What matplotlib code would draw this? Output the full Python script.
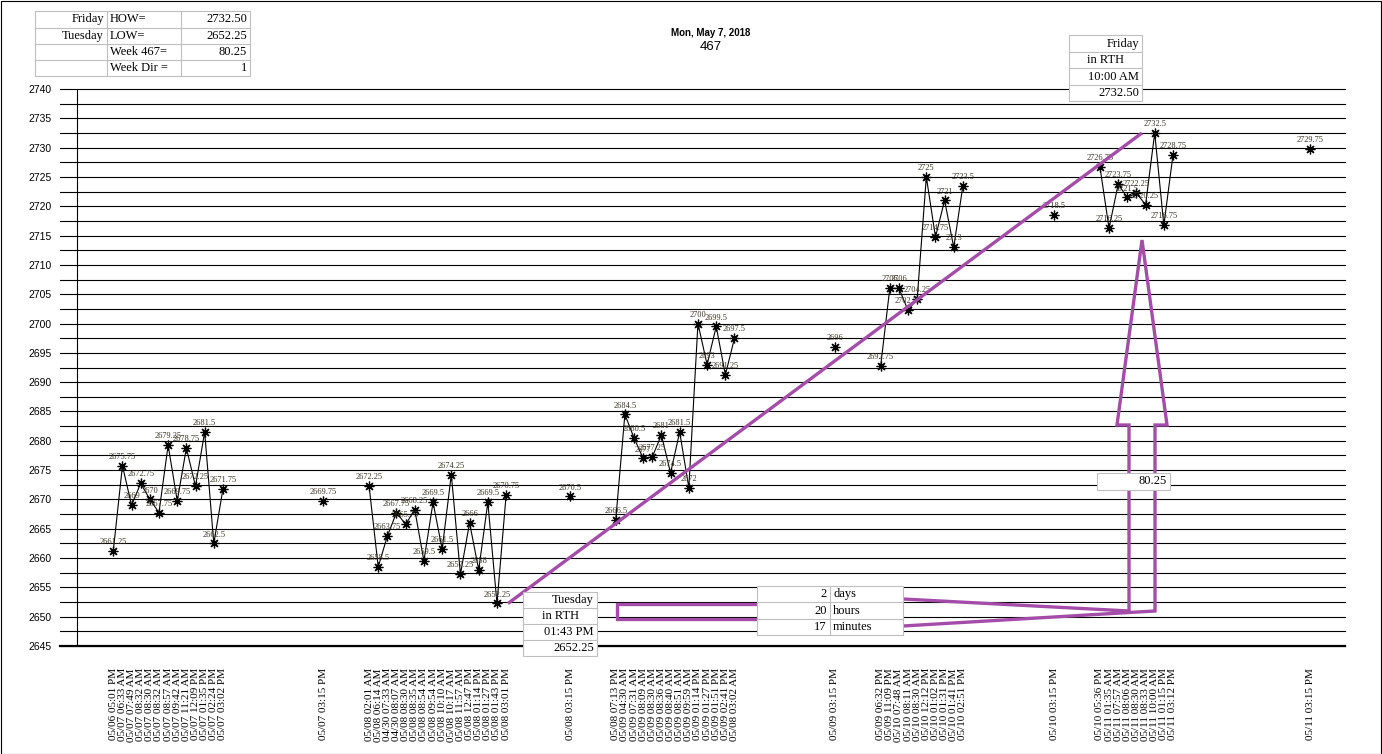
import numpy as np
import matplotlib
matplotlib.use("Agg")
import matplotlib.pyplot as plt
from matplotlib.lines import Line2D
from matplotlib.patches import Rectangle
from matplotlib.ticker import MultipleLocator, FormatStrFormatter

# ---------------- data ----------------
title = "Mon, May 7, 2018"
subtitle = "467"

seg1_labels = ["05/06 05:01 PM", "05/07 06:33 AM", "05/07 07:49 AM", "05/07 08:32 AM",
               "05/07 08:30 AM", "05/07 08:32 AM", "05/07 08:57 AM", "05/07 09:42 AM",
               "05/07 11:21 AM", "05/07 12:09 PM", "05/07 01:35 PM", "05/07 02:24 PM",
               "05/07 03:02 PM"]
seg1_values = [2661.25, 2675.75, 2669, 2672.75, 2670, 2667.75, 2679.25, 2669.75,
               2678.75, 2672.25, 2681.5, 2662.5, 2671.75]

seg2_labels = ["05/07 03:15 PM"]
seg2_values = [2669.75]

seg3_labels = ["05/08 02:01 AM", "05/08 06:14 AM", "04/30 07:33 AM", "04/30 08:07 AM",
               "05/08 08:30 AM", "05/08 08:35 AM", "05/08 08:54 AM", "05/08 09:54 AM",
               "05/08 10:10 AM", "05/08 10:17 AM", "05/08 11:57 AM", "05/08 12:47 PM",
               "05/08 01:14 PM", "05/08 01:27 PM", "05/08 01:43 PM", "05/08 03:01 PM"]
seg3_values = [2672.25, 2658.5, 2663.75, 2667.75, 2665.75, 2668.25, 2659.5, 2669.5,
               2661.5, 2674.25, 2657.25, 2666, 2658, 2669.5, 2652.25, 2670.75]

seg4_labels = ["05/08 03:15 PM"]
seg4_values = [2670.5]

seg5_labels = ["05/08 07:13 PM", "05/09 04:30 AM", "05/09 07:31 AM", "05/09 08:09 AM",
               "05/09 08:30 AM", "05/09 08:36 AM", "05/09 08:40 AM", "05/09 08:51 AM",
               "05/09 09:59 AM", "05/09 01:14 PM", "05/09 01:27 PM", "05/09 01:51 PM",
               "05/09 02:41 PM", "05/08 03:02 AM"]
seg5_values = [2666.5, 2684.5, 2680.5, 2677, 2677.25, 2681, 2674.5, 2681.5,
               2672, 2700, 2693, 2699.5, 2691.25, 2697.5]

seg6_labels = ["05/09 03:15 PM"]
seg6_values = [2696]

seg7_labels = ["05/09 06:32 PM", "05/09 11:09 PM", "05/10 07:48 AM", "05/10 08:11 AM",
               "05/10 08:30 AM", "05/10 12:12 PM", "05/10 01:02 PM", "05/10 01:31 PM",
               "05/10 01:41 PM", "05/10 02:51 PM"]
seg7_values = [2692.75, 2706, 2706, 2702.25, 2704.25, 2725, 2714.75, 2721, 2713, 2723.5]

seg8_labels = ["05/10 03:15 PM"]
seg8_values = [2718.5]

seg9_labels = ["05/10 05:36 PM", "05/11 01:35 AM", "05/11 07:57 AM", "05/11 08:06 AM",
               "05/11 08:30 AM", "05/11 08:33 AM", "05/11 10:00 AM", "05/11 01:15 PM",
               "05/11 03:12 PM"]
seg9_values = [2726.75, 2716.25, 2723.75, 2721.5, 2722.25, 2720.25, 2732.5, 2716.75, 2728.75]

seg10_labels = ["05/11 03:15 PM"]
seg10_values = [2729.75]

# number of empty categories before each segment
blank_before = [0, 10, 4, 6, 4, 10, 4, 9, 4, 14]

week_label = "Week 467="
week_dir = 1
high_day, low_day = "Friday", "Tuesday"
high_time, low_time = "10:00 AM", "01:43 PM"
elapsed = [("2", "days"), ("20", "hours"), ("17", "minutes")]

segments = [(seg1_labels, seg1_values), (seg2_labels, seg2_values),
            (seg3_labels, seg3_values), (seg4_labels, seg4_values),
            (seg5_labels, seg5_values), (seg6_labels, seg6_values),
            (seg7_labels, seg7_values), (seg8_labels, seg8_values),
            (seg9_labels, seg9_values), (seg10_labels, seg10_values)]

categories, values = [], []
for nb, (labs, vals) in zip(blank_before, segments):
    categories += [""] * nb
    values += [np.nan] * nb
    categories += labs
    values += vals
values = np.array(values, dtype=float)
x = np.arange(len(categories))

HOW = np.nanmax(values)
LOW = np.nanmin(values)
RANGE = HOW - LOW
hi_i = int(np.nanargmax(values))
lo_i = int(np.nanargmin(values))

# ---------------- figure ----------------
W, H = 1382, 754
SERIF = "Liberation Serif"
SANS = "Liberation Sans"
PURPLE = "#A44DA8"
GRAY = "#BFBFBF"

fig = plt.figure(figsize=(W / 100, H / 100), dpi=100)
fig.patch.set_facecolor("white")

def fx(px):
    return px / W

def fy(py):
    return 1 - py / H

ax = fig.add_axes([fx(60), fy(646), (1345 - 60) / W, (646 - 89) / H])
ax.set_xlim(-5.835, 134.83)
ax.set_ylim(2645, 2740)

for s in ["left", "right", "top"]:
    ax.spines[s].set_visible(False)
ax.spines["bottom"].set_linewidth(1.6)
ax.spines["bottom"].set_color("black")

ax.yaxis.set_major_locator(MultipleLocator(5))
ax.yaxis.set_minor_locator(MultipleLocator(2.5))
ax.yaxis.set_major_formatter(FormatStrFormatter("%d"))
ax.grid(True, axis="y", which="both", color="black", linewidth=0.8)
for t in ax.yaxis.get_major_ticks() + ax.yaxis.get_minor_ticks():
    t.gridline.set_clip_on(False)
ax.set_axisbelow(True)
ax.tick_params(axis="y", which="both", length=0, pad=6, labelsize=7.5)
for lab in ax.get_yticklabels():
    lab.set_fontfamily(SANS)

# value axis line
ax.axvline(-4, color="black", linewidth=0.8, zorder=1)

# x tick labels
tick_pos = [i for i, c in enumerate(categories) if c]
ax.set_xticks(tick_pos)
ax.set_xticklabels([categories[i] for i in tick_pos], rotation=90, ha="center",
                   va="top", fontsize=8, fontfamily=SERIF)
ax.tick_params(axis="x", length=0, pad=16)

# series
ax.plot(x, values, color="black", linewidth=0.8, marker=(8, 2, 0), markersize=7,
        markeredgewidth=0.9, markeredgecolor="black", zorder=3, clip_on=False)
for xi, v in zip(x, values):
    if np.isnan(v):
        continue
    ax.annotate(f"{v:g}", (xi, v), xytext=(0, 3.5), textcoords="offset points",
                ha="center", va="bottom", fontsize=6, fontfamily=SERIF,
                color="#3d3524", zorder=4)

# purple diagonal low -> high
ax.plot([lo_i + 1.2, hi_i - 1.4], [LOW, HOW], color=PURPLE, linewidth=2.4,
        zorder=5, solid_capstyle="butt")

# purple block arrow / connector (figure pixel coordinates)
def fig_line(pts, **kw):
    xs = [fx(p[0]) for p in pts]
    ys = [fy(p[1]) for p in pts]
    fig.add_artist(Line2D(xs, ys, transform=fig.transFigure, **kw))

pk = dict(color=PURPLE, linewidth=2.4, zorder=6, solid_joinstyle="miter")
fig_line([(757, 603.5), (617, 603.5), (617, 619), (757, 619)], **pk)
fig_line([(903, 599), (1129, 611), (1129, 425), (1117, 425), (1142, 240),
          (1167, 425), (1155, 425), (1155, 611), (1129, 612.5), (903, 626)], **pk)

# tables
def draw_table(xe, ye, cells, fs=9):
    fig.add_artist(Rectangle((fx(xe[0]), fy(ye[-1])), (xe[-1] - xe[0]) / W,
                             (ye[-1] - ye[0]) / H, transform=fig.transFigure,
                             facecolor="white", edgecolor=GRAY, linewidth=0.8,
                             zorder=10))
    for xv in xe[1:-1]:
        fig.add_artist(Line2D([fx(xv), fx(xv)], [fy(ye[0]), fy(ye[-1])],
                              transform=fig.transFigure, color=GRAY,
                              linewidth=0.8, zorder=11))
    for yv in ye[1:-1]:
        fig.add_artist(Line2D([fx(xe[0]), fx(xe[-1])], [fy(yv), fy(yv)],
                              transform=fig.transFigure, color=GRAY,
                              linewidth=0.8, zorder=11))
    for r, row in enumerate(cells):
        yc = (ye[r] + ye[r + 1]) / 2
        for c, (txt, al) in enumerate(row):
            if not txt:
                continue
            if al == "r":
                xp, ha = xe[c + 1] - 3, "right"
            elif al == "l":
                xp, ha = xe[c] + 3, "left"
            else:
                xp, ha = (xe[c] + xe[c + 1]) / 2, "center"
            fig.text(fx(xp), fy(yc), txt, ha=ha, va="center", fontsize=fs,
                     fontfamily=SERIF, color="black", zorder=12)

draw_table([35, 107, 181, 250], [11, 27.5, 44, 60, 76],
           [[(high_day, "r"), ("HOW=", "l"), (f"{HOW:.2f}", "r")],
            [(low_day, "r"), ("LOW=", "l"), (f"{LOW:.2f}", "r")],
            [("", "r"), (week_label, "l"), (f"{RANGE:.2f}", "r")],
            [("", "r"), ("Week Dir =", "l"), (f"{week_dir}", "r")]])

draw_table([1069, 1142], [35, 52, 68, 85, 101],
           [[(high_day, "r")], [("in RTH", "c")], [(high_time, "r")],
            [(f"{HOW:.2f}", "r")]])

draw_table([523, 597], [592, 608, 624, 640, 656],
           [[(low_day, "r")], [("in RTH", "c")], [(low_time, "r")],
            [(f"{LOW:.2f}", "r")]])

draw_table([757, 830, 903], [586, 602, 619, 635],
           [[(a, "r"), (b, "l")] for a, b in elapsed])

draw_table([1097, 1170], [473, 490], [[(f"{RANGE:.2f}", "r")]])

# titles
fig.text(fx(711), fy(33), title, ha="center", va="center", fontsize=7,
         fontweight="bold", fontfamily=SANS)
fig.text(fx(711), fy(47), subtitle, ha="center", va="center", fontsize=9.5,
         fontfamily=SANS)

# outer border
fig.add_artist(Rectangle((0.5 / W, 0.5 / H), 1 - 1.5 / W, 1 - 1.5 / H,
                         transform=fig.transFigure, fill=False,
                         edgecolor="black", linewidth=0.8, zorder=20))

fig.savefig("out.png", dpi=100)
